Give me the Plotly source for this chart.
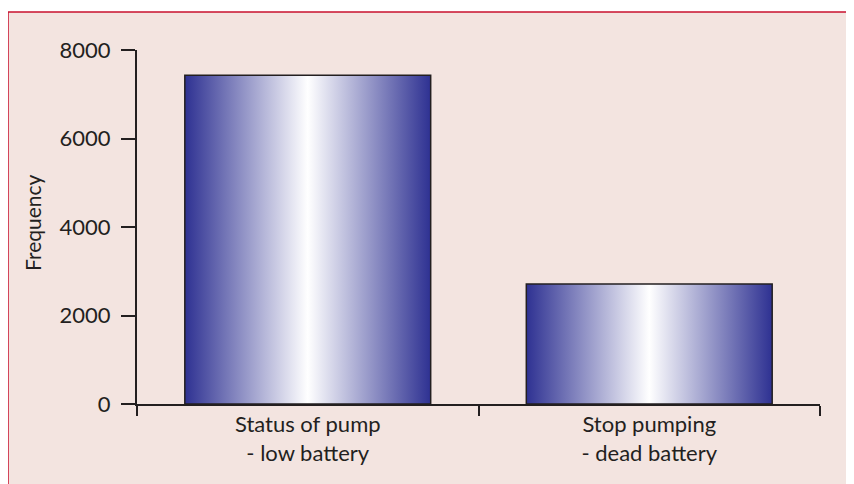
import plotly.graph_objects as go

categories = ["Status of pump<br>- low battery", "Stop pumping<br>- dead battery"]
frequency = [7430, 2710]
y_ticks = [0, 2000, 4000, 6000, 8000]
y_title = "Frequency"

# page body has an 8px margin; lay out in window pixels and subtract it
OFF = 8
WIN_W, WIN_H = 854, 484
W, H = WIN_W - OFF, WIN_H - OFF
PL, PR, PT, PB = 137, 820, 50, 404  # plot area in window pixels
ML, MR, MT, MB = PL - OFF, WIN_W - PR, PT - OFF, WIN_H - PB
pw, ph = W - ML - MR, H - MT - MB

def px_x(p):
    return (p - PL) / pw

def px_y(p):
    return (PB - p) / ph

INK = "#231f20"
BAR_W = 0.72
scale = [[0.0, "#2e3192"], [0.5, "#ffffff"], [1.0, "#2e3192"]]

fig = go.Figure()
for i, (c, v) in enumerate(zip(categories, frequency)):
    cx = i + 0.5
    x0, x1 = cx - BAR_W / 2, cx + BAR_W / 2
    fig.add_trace(go.Scatter(
        x=[x0, x0, x1, x1, x0], y=[0, v, v, 0, 0],
        mode="lines", fill="toself",
        fillgradient=dict(type="horizontal", colorscale=scale),
        line=dict(color=INK, width=1.5),
        hoverinfo="skip", showlegend=False,
    ))

font = "Lato, 'Open Sans', sans-serif"
fig.update_layout(
    width=W, height=H,
    margin=dict(l=ML, r=MR, t=MT, b=MB),
    paper_bgcolor="white", plot_bgcolor="rgba(0,0,0,0)",
    font=dict(family=font, color=INK, size=22),
    showlegend=False,
    shapes=[
        dict(type="rect", xref="paper", yref="paper",
             x0=px_x(8), x1=px_x(WIN_W + 5), y0=px_y(WIN_H + 5), y1=px_y(12),
             fillcolor="#f3e4e0", line=dict(width=0), layer="below"),
        dict(type="line", xref="paper", yref="paper",
             x0=px_x(8), x1=px_x(WIN_W + 5), y0=px_y(12), y1=px_y(12),
             line=dict(color="#c8102e", width=1.5), layer="below"),
        dict(type="line", xref="paper", yref="paper",
             x0=px_x(8), x1=px_x(8), y0=px_y(12), y1=px_y(WIN_H + 5),
             line=dict(color="#c8102e", width=1.5), layer="below"),
    ],
    annotations=[
        dict(text=y_title, xref="paper", yref="paper", x=px_x(32), y=px_y(223),
             textangle=-90, showarrow=False, font=dict(size=21, family=font, color=INK),
             xanchor="center", yanchor="middle"),
    ],
)
fig.update_xaxes(
    range=[0, len(categories)], tickmode="array",
    tickvals=[i + 0.5 for i in range(len(categories))], ticktext=categories,
    ticks="", showline=True, linecolor=INK, linewidth=2, showgrid=False,
    zeroline=False, fixedrange=True,
    minor=dict(tickmode="array", tickvals=list(range(len(categories) + 1)),
               ticks="outside", ticklen=10, tickwidth=2, tickcolor=INK, showgrid=False),
)
fig.update_yaxes(
    range=[0, 8000], tickmode="array", tickvals=y_ticks,
    ticks="outside", ticklen=14, tickwidth=2, tickcolor=INK,
    showline=True, linecolor=INK, linewidth=2, showgrid=False, zeroline=False,
    ticklabelstandoff=6,
)
fig.write_html("out.html")
